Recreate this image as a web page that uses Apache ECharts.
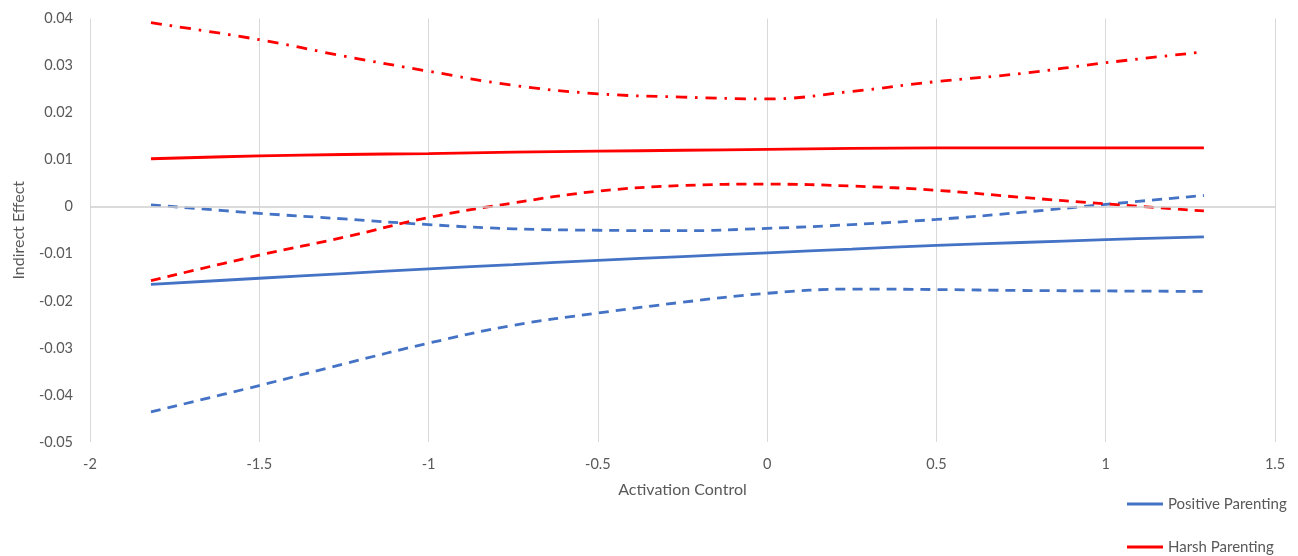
<!DOCTYPE html>
<html>
<head>
<meta charset="utf-8">
<script src="https://cdn.jsdelivr.net/npm/echarts@6/dist/echarts.min.js"></script>
<style>
  html, body { margin: 0; padding: 0; background: #fff; }
  #chart { width: 1298px; height: 556px; }
</style>
</head>
<body>
<div id="chart"></div>
<script>
// activation control values where the indirect effect was evaluated
const xValues = [-1.82, -1.5, -1.25, -1, -0.75, -0.5, -0.25, 0, 0.25, 0.5, 0.75, 1, 1.29]

// positive parenting: estimate + CI bounds
const posEffect = [-0.0165, -0.0152, -0.0142, -0.0132, -0.0123, -0.0114, -0.0106, -0.0098, -0.0090, -0.0082, -0.0076, -0.0070, -0.0064]
const posUpper  = [0.0004, -0.0014, -0.0026, -0.0038, -0.0047, -0.0050, -0.0051, -0.0046, -0.0038, -0.0027, -0.0012, 0.0005, 0.0024]
const posLower  = [-0.0436, -0.0380, -0.0334, -0.0290, -0.0252, -0.0226, -0.0203, -0.0184, -0.0175, -0.0176, -0.0178, -0.0179, -0.0180]

// harsh parenting: estimate + CI bounds
const harshEffect = [0.0102, 0.0108, 0.0111, 0.0113, 0.0116, 0.0118, 0.0120, 0.0122, 0.0124, 0.0125, 0.0125, 0.0125, 0.0125]
const harshUpper  = [0.0391, 0.0355, 0.0320, 0.0288, 0.0258, 0.0240, 0.0233, 0.0229, 0.0245, 0.0266, 0.0283, 0.0306, 0.0329]
const harshLower  = [-0.0157, -0.0103, -0.0065, -0.0023, 0.0008, 0.0033, 0.0045, 0.0048, 0.0044, 0.0035, 0.0020, 0.0006, -0.0009]

const BLUE = '#4472C4'
const RED = '#FF0000'
const TXT = '#595959'
const FONT = 'Lato, "Open Sans", sans-serif'

const pairs = (ys) => xValues.map((x, i) => [x, ys[i]])

function lineSeries(name, ys, color, dash) {
  return {
    name,
    type: 'line',
    data: pairs(ys),
    smooth: 0.4,
    symbol: 'none',
    silent: true,
    lineStyle: { color, width: 2.8, type: dash || 'solid' },
    itemStyle: { color },
  }
}

const chart = echarts.init(document.getElementById('chart'))
chart.setOption({
  animation: false,
  textStyle: { fontFamily: FONT },
  grid: { left: 90, right: 23, top: 18.5, bottom: 114 },
  legend: {
    data: ['Positive Parenting', 'Harsh Parenting'],
    orient: 'vertical',
    left: 1127,
    top: 495,
    height: 80,
    padding: 0,
    icon: 'rect',
    itemWidth: 36,
    itemHeight: 3,
    itemGap: 25,
    textStyle: { color: TXT, fontSize: 15, lineHeight: 18, fontFamily: FONT },
  },
  xAxis: {
    type: 'value',
    min: -2, max: 1.5, interval: 0.5,
    name: 'Activation Control',
    nameLocation: 'middle',
    nameGap: 40,
    nameTextStyle: { color: TXT, fontSize: 16, fontFamily: FONT },
    axisLine: { show: false },
    axisTick: { show: false },
    axisLabel: { color: TXT, fontSize: 14.5, margin: 15, fontFamily: FONT },
    splitLine: { show: true, lineStyle: { color: '#D9D9D9', width: 1 } },
  },
  yAxis: {
    type: 'value',
    min: -0.05, max: 0.04, interval: 0.01,
    name: 'Indirect Effect',
    nameLocation: 'middle',
    nameGap: 63,
    nameTextStyle: { color: TXT, fontSize: 16, fontFamily: FONT },
    axisLine: { show: false },
    axisTick: { show: false },
    splitLine: { show: false },
    axisLabel: {
      color: TXT, fontSize: 14.5, margin: 17, fontFamily: FONT,
      formatter: (v) => (Math.abs(v) < 1e-9 ? '0' : v.toFixed(2)),
    },
  },
  series: [
    Object.assign(lineSeries('Positive Parenting', posEffect, BLUE), {
      markLine: {
        silent: true,
        symbol: 'none',
        label: { show: false },
        lineStyle: { color: '#CFCFCF', width: 1.5, type: 'solid' },
        data: [{ yAxis: 0 }],
      },
    }),
    lineSeries('Positive Parenting CI Upper', posUpper, BLUE, [10, 7]),
    lineSeries('Positive Parenting CI Lower', posLower, BLUE, [10, 7]),
    lineSeries('Harsh Parenting', harshEffect, RED),
    lineSeries('Harsh Parenting CI Upper', harshUpper, RED, [11, 8, 2.5, 8]),
    lineSeries('Harsh Parenting CI Lower', harshLower, RED, [10, 7]),
  ],
})
</script>
</body>
</html>
